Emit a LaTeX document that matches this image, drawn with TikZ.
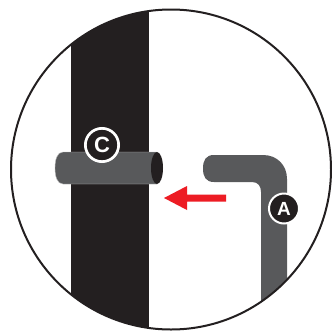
\documentclass[tikz,border=0pt]{standalone}
\usepackage{fontspec}
\setmainfont{Liberation Sans}
\definecolor{inkk}{HTML}{231F20}
\definecolor{pipeg}{HTML}{58595B}
\definecolor{redd}{HTML}{ED1C24}
\tikzset{badge/.style={circle,fill=inkk,draw=white,inner sep=0pt,text=white,font=\bfseries}}
\begin{document}
\begin{tikzpicture}[x=1pt,y=-1pt]
\useasboundingbox (0,0) rectangle (332,330);
\fill[white] (0,0) rectangle (332,330);
\begin{scope}
\clip (171,169.5) circle (160);
\fill[inkk] (71,0) rectangle (149,330);
\fill[pipeg] (203,168.5) .. controls (203,160) and (206,155) .. (214,155) -- (263,155) .. controls (277,155) and (287,165) .. (287,179) -- (287,330) -- (261,330) -- (261,192) .. controls (261,186) and (258,182) .. (252,182) -- (214,182) .. controls (206,182) and (203,177) .. (203,168.5) -- cycle;
\end{scope}
\draw[inkk,line width=2pt] (171,169.5) circle (160);
\filldraw[pipeg,draw=white!60!pipeg,line width=0.4pt] (157,152) -- (63,152) .. controls (57,152) and (55,160) .. (55,168) .. controls (55,176) and (57,184) .. (63,184) -- (157,184) -- cycle;
\fill[inkk] (157,168) ellipse (6 and 16);
\node[badge,line width=2.7pt,minimum size=33.3pt,font=\bfseries\fontsize{22}{22}\selectfont] (c) at (102,145) {C};
\node[badge,line width=2pt,minimum size=30pt,font=\bfseries\fontsize{19}{19}\selectfont] (a) at (284,208.5) {A};
\fill[redd] (164,198) -- (187,186) -- (187,194.5) -- (226,194.5) -- (226,201.5) -- (187,201.5) -- (187,210) -- cycle;
\end{tikzpicture}
\end{document}
